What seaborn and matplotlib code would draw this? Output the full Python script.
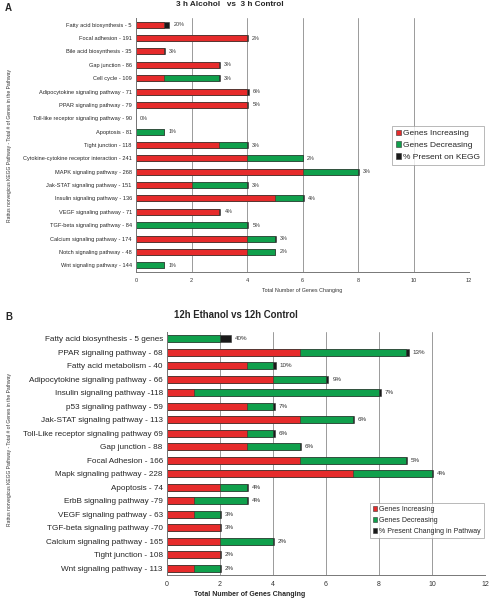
import matplotlib
matplotlib.use("Agg")
import matplotlib.pyplot as plt
from matplotlib.patches import Patch
import seaborn as sns
import pandas as pd

# ---- Panel A: 3 h Alcohol vs 3 h Control ----
a_pathways = [
    "Fatty acid biosynthesis - 5", "Focal adhesion - 191", "Bile acid biosynthesis - 35",
    "Gap junction - 86", "Cell cycle - 109", "Adipocytokine signaling pathway - 71",
    "PPAR signaling pathway - 79", "Toll-like receptor signaling pathway - 90",
    "Apoptosis - 81", "Tight junction - 118", "Cytokine-cytokine receptor interaction - 241",
    "MAPK signaling pathway - 268", "Jak-STAT signaling pathway - 151",
    "Insulin signaling pathway - 136", "VEGF signaling pathway - 71",
    "TGF-beta signaling pathway - 84", "Calcium signaling pathway - 174",
    "Notch signaling pathway - 48", "Wnt signaling pathway - 144",
]
a_increase = [1, 4, 1, 3, 1, 4, 4, 0, 0, 3, 4, 6, 2, 5, 3, 0, 4, 4, 0]
a_decrease = [0, 0, 0, 0, 2, 0, 0, 0, 1, 1, 2, 2, 2, 1, 0, 4, 1, 1, 1]
a_pct = [20, 2, 3, 3, 3, 6, 5, 0, 1, 3, 2, 3, 3, 4, 4, 5, 3, 2, 1]

# ---- Panel B: 12h Ethanol vs 12h Control ----
b_pathways = [
    "Fatty acid biosynthesis - 5 genes", "PPAR signaling pathway - 68",
    "Fatty acid metabolism - 40", "Adipocytokine signaling pathway - 66",
    "Insulin signaling pathway -118", "p53 signaling pathway - 59",
    "Jak-STAT signaling pathway - 113", "Toll-Like receptor signaling pathway 69",
    "Gap junction - 88", "Focal Adhesion - 166", "Mapk signaling pathway - 228",
    "Apoptosis - 74", "ErbB signaling pathway -79", "VEGF signaling pathway - 63",
    "TGF-beta signaling pathway -70", "Calcium signaling pathway - 165",
    "Tight junction - 108", "Wnt signaling pathway - 113",
]
b_increase = [0, 5, 3, 4, 1, 3, 5, 3, 3, 5, 7, 2, 1, 1, 2, 2, 2, 1]
b_decrease = [2, 4, 1, 2, 7, 1, 2, 1, 2, 4, 3, 1, 2, 1, 0, 2, 0, 1]
b_pct = [40, 13, 10, 9, 7, 7, 6, 6, 6, 5, 4, 4, 4, 3, 3, 2, 2, 2]

ticks = [0, 2, 4, 6, 8, 10, 12]
RED = "#e62b2b"
GREEN = "#10a04c"
BLACK = "#1a1a1a"

sns.set_style("white")
plt.rcParams["font.family"] = ["Liberation Sans", "DejaVu Sans"]

fig = plt.figure(figsize=(4.9, 6.0), dpi=100)


def stacked(ax, names, inc, dec, pct, bar_w, label_fs, pct_fs, tick_fs):
    df = pd.DataFrame({"pathway": names, "inc": inc, "dec": dec, "pct": pct})
    df["both"] = df["inc"] + df["dec"]
    df["total"] = df["both"] + df["pct"] / 100
    # overlay bars from longest to shortest to get a stacked look
    for col, c in [("total", BLACK), ("both", GREEN), ("inc", RED)]:
        sns.barplot(data=df, x=col, y="pathway", orient="h", color=c,
                    edgecolor="#333333", linewidth=0.4, width=bar_w,
                    errorbar=None, saturation=1, ax=ax)
    for i, row in df.iterrows():
        ax.text(row["total"] + 0.15, i, f"{row['pct']}%", va="center",
                ha="left", fontsize=pct_fs, color="#333333")
    ax.set_xlim(0, 12)
    ax.set_xticks(ticks)
    ax.set_xlabel("")
    ax.set_ylabel("")
    ax.tick_params(axis="y", labelsize=label_fs, length=0, pad=3)
    ax.tick_params(axis="x", labelsize=tick_fs, length=0, pad=4, colors="#333333")
    ax.grid(axis="x", color="#9a9a9a", linewidth=0.7)
    ax.set_axisbelow(True)
    for s in ["top", "right"]:
        ax.spines[s].set_visible(False)
    for s in ["left", "bottom"]:
        ax.spines[s].set_color("#777777")
        ax.spines[s].set_linewidth(0.7)


def add_legend(labels, anchor, fs, spacing):
    handles = [Patch(facecolor=c, edgecolor="#333333", linewidth=0.4)
               for c in (RED, GREEN, BLACK)]
    leg = fig.legend(handles=handles, labels=labels, loc="upper left",
                     bbox_to_anchor=anchor, fontsize=fs, frameon=True,
                     fancybox=False, handlelength=0.6, handleheight=0.6,
                     handletextpad=0.3, labelspacing=spacing, borderpad=0.45,
                     borderaxespad=0)
    leg.get_frame().set_edgecolor("#999999")
    leg.get_frame().set_linewidth(0.6)


ylab = "Rattus norvegicus KEGG Pathway - Total # of Genes in the Pathway"

# panel A
ax1 = fig.add_axes([136 / 490, 1 - 272 / 600, (469 - 136) / 490, (272 - 18) / 600])
stacked(ax1, a_pathways, a_increase, a_decrease, a_pct, 0.45, 4.1, 3.9, 4.0)
fig.text(5 / 490, 1 - 8 / 600, "A", fontsize=7, fontweight="bold", va="center")
fig.text(230 / 490, 1 - 5 / 600, "3 h Alcohol   vs  3 h Control", fontsize=5.9,
         fontweight="bold", ha="center", va="center")
fig.text(302 / 490, 1 - 290 / 600, "Total Number of Genes Changing", fontsize=3.9,
         ha="center", va="center", color="#333333")
fig.text(10 / 490, 1 - 145 / 600, ylab, rotation=90, fontsize=3.6,
         ha="center", va="center", color="#333333")
add_legend(["Genes Increasing", "Genes Decreasing", "% Present on KEGG"],
           (392 / 490, 1 - 126 / 600), 6.0, 0.5)

# panel B
ax2 = fig.add_axes([167 / 490, 1 - 575 / 600, (485 - 167) / 490, (575 - 332) / 600])
stacked(ax2, b_pathways, b_increase, b_decrease, b_pct, 0.5, 5.9, 4.5, 5.0)
fig.text(5 / 490, 1 - 317 / 600, "B", fontsize=7, fontweight="bold", va="center")
fig.text(236 / 490, 1 - 315 / 600, "12h Ethanol vs 12h Control", fontsize=6.9,
         fontweight="bold", ha="center", va="center")
fig.text(250 / 490, 1 - 595 / 600, "Total Number of Genes Changing", fontsize=5.0,
         fontweight="bold", ha="center", va="center")
fig.text(10 / 490, 1 - 450 / 600, ylab, rotation=90, fontsize=3.6,
         ha="center", va="center", color="#333333")
add_legend(["Genes Increasing", "Genes Decreasing", "% Present Changing in Pathway"],
           (370 / 490, 1 - 503 / 600), 5.0, 0.55)

fig.savefig("out.png", dpi=100)
